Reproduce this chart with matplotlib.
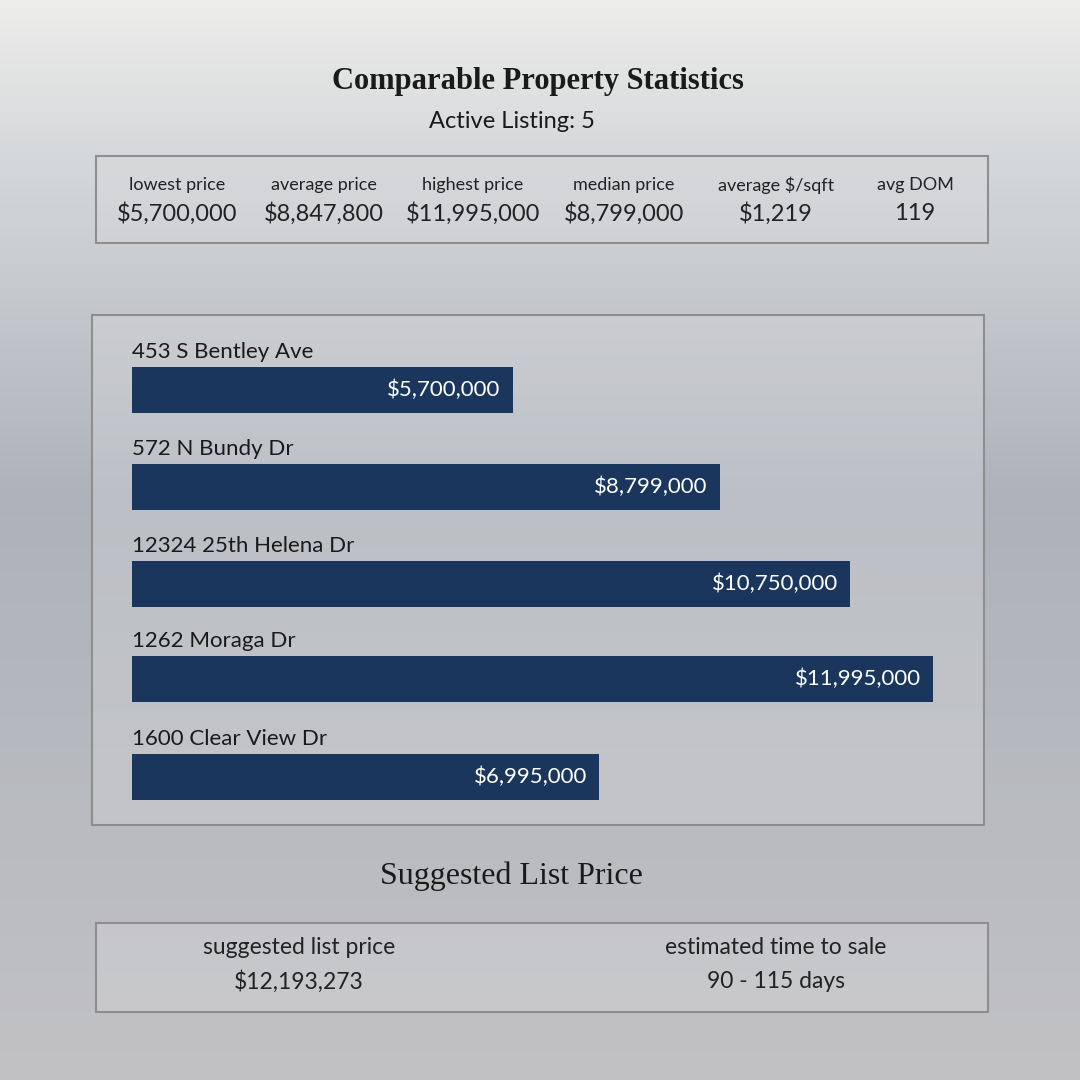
import numpy as np
import matplotlib
matplotlib.use("Agg")
import matplotlib.pyplot as plt
from matplotlib.patches import Rectangle

addresses = ["453 S Bentley Ave", "572 N Bundy Dr", "12324 25th Helena Dr", "1262 Moraga Dr", "1600 Clear View Dr"]
prices = [5700000, 8799000, 10750000, 11995000, 6995000]
stat_labels = ["lowest price", "average price", "highest price", "median price", "average $/sqft", "avg DOM"]
stat_values = ["$5,700,000", "$8,847,800", "$11,995,000", "$8,799,000", "$1,219", "119"]
suggest_labels = ["suggested list price", "estimated time to sale"]
suggest_values = ["$12,193,273", "90 - 115 days"]

W = H = 1080
fig = plt.figure(figsize=(10.8, 10.8), dpi=100)

bg = fig.add_axes([0, 0, 1, 1])
stops_y = [0, 150, 500, 1080]
stops_c = [(0.93, 0.93, 0.92), (0.84, 0.85, 0.86), (0.68, 0.70, 0.73), (0.76, 0.76, 0.77)]
ys = np.arange(H)
grad = np.zeros((H, 1, 3))
for k in range(3):
    grad[:, 0, k] = np.interp(ys, stops_y, [c[k] for c in stops_c])
bg.imshow(grad, aspect="auto", extent=[0, W, H, 0])
bg.set_xlim(0, W); bg.set_ylim(H, 0); bg.axis("off")

def box(x0, y0, x1, y1):
    bg.add_patch(Rectangle((x0, y0), x1 - x0, y1 - y0, fill=True, facecolor=(0.85, 0.85, 0.86, 0.35),
                           edgecolor="#8e8e8e", lw=1.5))

bg.text(538, 81, "Comparable Property Statistics", ha="center", va="center", fontsize=22,
        fontweight="bold", family="Liberation Serif", color="#1a1a1a")
bg.text(512, 122, "Active Listing: 5", ha="center", va="center", fontsize=17, family="Lato", color="#1a1a1a")

box(96, 156, 988, 243)
xs = [177, 324, 473, 624, 776, 915]
for x, l, v in zip(xs, stat_labels, stat_values):
    bg.text(x, 185, l, ha="center", va="center", fontsize=13, family="Lato", color="#222")
    bg.text(x, 214, v, ha="center", va="center", fontsize=17, family="Lato", color="#222")

box(92, 315, 984, 825)

bg.text(511, 876, "Suggested List Price", ha="center", va="center", fontsize=23,
        family="Liberation Serif", color="#1a1a1a")
box(96, 923, 988, 1012)
for x, l, v in zip([299, 776], suggest_labels, suggest_values):
    bg.text(x, 948, l, ha="center", va="center", fontsize=16.5, family="Lato", color="#222")
    bg.text(x, 982, v, ha="center", va="center", fontsize=16.5, family="Lato", color="#222")

ax = fig.add_axes([132 / W, 1 - 810 / H, (940 - 132) / W, (810 - 330) / H])
ax.patch.set_alpha(0)
xmax = 11995000 * (940 - 132) / (933 - 132)
ax.set_xlim(0, xmax)
ax.set_ylim(810, 330)
centers = [390, 487, 584, 679, 777]
ax.barh(centers, prices, height=46, color="#1b365d")
for c, a, p in zip(centers, addresses, prices):
    ax.text(0, c - 38, a, ha="left", va="center", fontsize=16, family="Lato", color="#1a1a1a")
    ax.text(p - xmax * 0.015, c, f"${p:,.0f}", ha="right", va="center", fontsize=16,
            family="Lato", color="white")
ax.axis("off")

fig.savefig("out.png", dpi=100)
